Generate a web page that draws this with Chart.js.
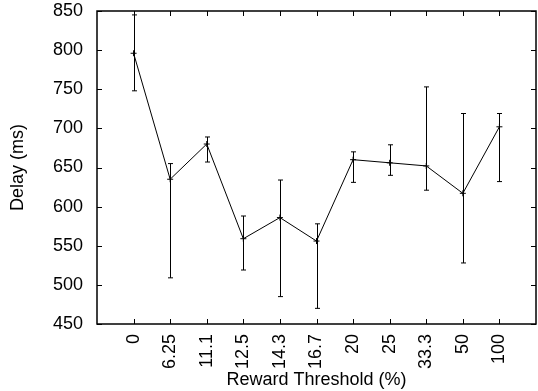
<!DOCTYPE html>
<html>
<head>
<meta charset="utf-8">
<script src="https://cdn.jsdelivr.net/npm/chart.js@4/dist/chart.umd.min.js"></script>
<style>
html,body{margin:0;padding:0;background:#fff;overflow:hidden;width:538px;height:391px;}
#wrap{width:541px;height:391px;position:relative;}
</style>
</head>
<body>
<div id="wrap"><canvas id="c" width="541" height="391"></canvas></div>
<script>
const categories = ['0','6.25','11.1','12.5','14.3','16.7','20','25','33.3','50','100'];
const delay = [796, 635, 680, 559, 586, 556, 660, 656, 652, 617, 702];
const errLow = [748, 509, 657, 519, 485, 470, 631, 640, 621, 528, 632];
const errHigh = [845, 655, 689, 588, 634, 578, 670, 679, 753, 719, 719];
const yTicks = [450, 500, 550, 600, 650, 700, 750, 800, 850];

const FONT = '"Liberation Sans", Arial, Helvetica, sans-serif';

const framePlugin = {
  id: 'frame',
  afterDatasetsDraw(chart) {
    const {ctx, chartArea: a, scales: {x, y}} = chart;
    ctx.save();
    ctx.strokeStyle = '#000';
    ctx.lineWidth = 1;
    for (let i = 0; i < delay.length; i++) {
      const px = Math.round(x.getPixelForValue(i)) + 0.5;
      const lo = y.getPixelForValue(errLow[i]);
      const hi = y.getPixelForValue(errHigh[i]);
      ctx.beginPath();
      ctx.moveTo(px, lo); ctx.lineTo(px, hi);
      ctx.moveTo(px - 2.5, lo); ctx.lineTo(px + 2.5, lo);
      ctx.moveTo(px - 2.5, hi); ctx.lineTo(px + 2.5, hi);
      ctx.stroke();
    }
    ctx.beginPath();
    for (const v of yTicks) {
      const py = Math.round(y.getPixelForValue(v)) + 0.5;
      ctx.moveTo(a.left, py); ctx.lineTo(a.left + 5, py);
      ctx.moveTo(a.right, py); ctx.lineTo(a.right - 5, py);
    }
    for (let i = 0; i < categories.length; i++) {
      const px = Math.round(x.getPixelForValue(i)) + 0.5;
      ctx.moveTo(px, a.bottom); ctx.lineTo(px, a.bottom - 5);
      ctx.moveTo(px, a.top); ctx.lineTo(px, a.top + 5);
    }
    ctx.stroke();
    ctx.lineWidth = 1.5;
    ctx.strokeRect(a.left, a.top, a.right - a.left, a.bottom - a.top);
    ctx.restore();
  }
};

new Chart(document.getElementById('c'), {
  type: 'line',
  data: {
    datasets: [{
      data: delay.map((v, i) => ({x: i, y: v})),
      borderColor: '#000',
      backgroundColor: '#000',
      borderWidth: 1,
      pointStyle: 'cross',
      pointRadius: 3,
      pointBorderWidth: 1,
      tension: 0
    }]
  },
  options: {
    responsive: false,
    animation: false,
    devicePixelRatio: 1,
    layout: {padding: {top: 11, right: 0, left: 0, bottom: 0}},
    plugins: {legend: {display: false}, tooltip: {enabled: false}},
    scales: {
      x: {
        type: 'linear',
        min: -1,
        max: 11,
        afterFit(s) { s.height = 67; s.paddingLeft = 0; s.paddingRight = 0; },
        afterBuildTicks(s) { s.ticks = categories.map((c, i) => ({value: i})); },
        grid: {display: false, drawTicks: false},
        border: {display: false},
        ticks: {
          autoSkip: false,
          maxRotation: 90,
          minRotation: 90,
          padding: 10,
          color: '#000',
          font: {family: FONT, size: 18},
          callback(v) { return categories[v]; }
        },
        title: {
          display: true,
          text: 'Reward Threshold (%)',
          color: '#000',
          font: {family: FONT, size: 18, lineHeight: 1.0},
          padding: {top: 0, bottom: 2}
        }
      },
      y: {
        type: 'linear',
        min: 450,
        max: 850,
        afterFit(s) { s.width = 97; s.paddingTop = 0; s.paddingBottom = 0; },
        afterBuildTicks(s) { s.ticks = yTicks.map(v => ({value: v})); },
        grid: {display: false, drawTicks: false},
        border: {display: false},
        ticks: {
          padding: 14,
          color: '#000',
          font: {family: FONT, size: 18}
        },
        title: {
          display: true,
          text: 'Delay (ms)',
          color: '#000',
          font: {family: FONT, size: 18, lineHeight: 1.0},
          padding: {top: 9.5, bottom: 0}
        }
      }
    }
  },
  plugins: [framePlugin]
});
</script>
</body>
</html>
